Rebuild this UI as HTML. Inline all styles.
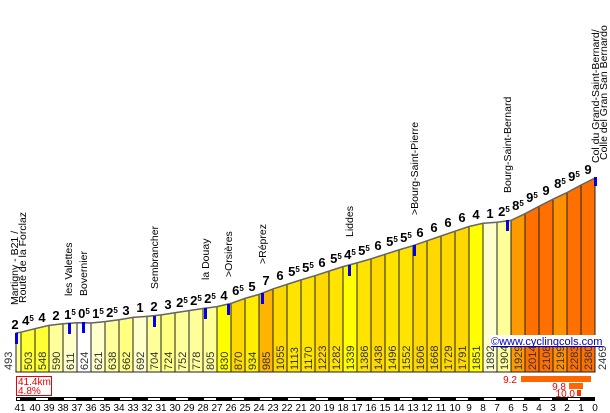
<!DOCTYPE html>
<html><head><meta charset="utf-8"><style>
html,body{margin:0;padding:0;background:#fff;}
svg{display:block;font-family:"Liberation Sans",sans-serif;}
.g{font-weight:bold;font-size:13px;fill:#000;text-anchor:middle;}
.g tspan.s{font-size:8px;}
.e{font-size:11px;fill:#333;}
.p{font-size:10.5px;fill:#000;}
.k{font-size:10px;fill:#000;text-anchor:middle;}
</style></head><body>
<svg width="610" height="413" viewBox="0 0 610 413" xmlns="http://www.w3.org/2000/svg">
<rect width="610" height="413" fill="#fff"/>
<g stroke="#222" stroke-width="1">
<polygon points="16,372 16,333.0 21,332.2 21,372" fill="#ffff99"/>
<polygon points="21,372 21,332.2 35,328.7 35,372" fill="#ffff33"/>
<polygon points="35,372 35,328.7 49,325.4 49,372" fill="#ffff33"/>
<polygon points="49,372 49,325.4 63,323.7 63,372" fill="#ffff99"/>
<polygon points="63,372 63,323.7 77,322.7 77,372" fill="#ffffcc"/>
<polygon points="77,372 77,322.7 91,323.0 91,372" fill="#ffffff"/>
<polygon points="91,372 91,323.0 105,321.6 105,372" fill="#ffffcc"/>
<polygon points="105,372 105,321.6 119,319.7 119,372" fill="#ffff99"/>
<polygon points="119,372 119,319.7 133,317.4 133,372" fill="#ffff80"/>
<polygon points="133,372 133,317.4 147,316.4 147,372" fill="#ffffcc"/>
<polygon points="147,372 147,316.4 161,314.9 161,372" fill="#ffff99"/>
<polygon points="161,372 161,314.9 175,312.7 175,372" fill="#ffff80"/>
<polygon points="175,372 175,312.7 189,310.6 189,372" fill="#ffff99"/>
<polygon points="189,372 189,310.6 203,308.5 203,372" fill="#ffff99"/>
<polygon points="203,372 203,308.5 217,306.6 217,372" fill="#ffff99"/>
<polygon points="217,372 217,306.6 231,303.4 231,372" fill="#ffff00"/>
<polygon points="231,372 231,303.4 245,298.4 245,372" fill="#ffd800"/>
<polygon points="245,372 245,298.4 259,294.4 259,372" fill="#ffee00"/>
<polygon points="259,372 259,294.4 273,288.9 273,372" fill="#ffb400"/>
<polygon points="273,372 273,288.9 287,284.4 287,372" fill="#ffd800"/>
<polygon points="287,372 287,284.4 301,279.9 301,372" fill="#ffe400"/>
<polygon points="301,372 301,279.9 315,275.7 315,372" fill="#ffe400"/>
<polygon points="315,372 315,275.7 329,271.1 329,372" fill="#ffd800"/>
<polygon points="329,372 329,271.1 343,266.6 343,372" fill="#ffe400"/>
<polygon points="343,372 343,266.6 357,262.9 357,372" fill="#ffff00"/>
<polygon points="357,372 357,262.9 371,258.9 371,372" fill="#ffe400"/>
<polygon points="371,372 371,258.9 385,254.3 385,372" fill="#ffd800"/>
<polygon points="385,372 385,254.3 399,249.9 399,372" fill="#ffe400"/>
<polygon points="399,372 399,249.9 413,245.7 413,372" fill="#ffe400"/>
<polygon points="413,372 413,245.7 427,240.8 427,372" fill="#ffd800"/>
<polygon points="427,372 427,240.8 441,236.0 441,372" fill="#ffd800"/>
<polygon points="441,372 441,236.0 455,231.2 455,372" fill="#ffd800"/>
<polygon points="455,372 455,231.2 469,226.5 469,372" fill="#ffd800"/>
<polygon points="469,372 469,226.5 483,223.3 483,372" fill="#ffff00"/>
<polygon points="483,372 483,223.3 497,222.3 497,372" fill="#ffffcc"/>
<polygon points="497,372 497,222.3 511,220.4 511,372" fill="#ffff99"/>
<polygon points="511,372 511,220.4 525,213.7 525,372" fill="#ff9900"/>
<polygon points="525,372 525,213.7 539,206.3 539,372" fill="#ff7000"/>
<polygon points="539,372 539,206.3 553,199.2 553,372" fill="#ff7000"/>
<polygon points="553,372 553,199.2 567,192.6 567,372" fill="#ff9000"/>
<polygon points="567,372 567,192.6 581,185.0 581,372" fill="#ff7000"/>
<polygon points="581,372 581,185.0 595,178.0 595,372" fill="#ff7000"/>
</g>
<polyline fill="none" stroke="#666" stroke-width="1.5" points="16,333.0 21,332.2 35,328.7 49,325.4 63,323.7 77,322.7 91,323.0 105,321.6 119,319.7 133,317.4 147,316.4 161,314.9 175,312.7 189,310.6 203,308.5 217,306.6 231,303.4 245,298.4 259,294.4 273,288.9 287,284.4 301,279.9 315,275.7 329,271.1 343,266.6 357,262.9 371,258.9 385,254.3 399,249.9 413,245.7 427,240.8 441,236.0 455,231.2 469,226.5 483,223.3 497,222.3 511,220.4 525,213.7 539,206.3 553,199.2 567,192.6 581,185.0 595,178.0"/>
<!-- blue markers -->
<g fill="#0000ee">
<rect x="15" y="333" width="3" height="11"/>
<rect x="68" y="323" width="3" height="11"/>
<rect x="82" y="322" width="3" height="11"/>
<rect x="153" y="316" width="3" height="11"/>
<rect x="204" y="308" width="3" height="11"/>
<rect x="227" y="304" width="3" height="11"/>
<rect x="261" y="293" width="3" height="11"/>
<rect x="348" y="265" width="3" height="11"/>
<rect x="413" y="245" width="3" height="11"/>
<rect x="506" y="220" width="3" height="11"/>
<rect x="594" y="177" width="3" height="9"/>
</g>
<!-- gradient labels -->
<g class="g">
<text x="15" y="329">2</text>
<text x="28" y="325">4<tspan class="s" dy="-4">5</tspan></text>
<text x="42" y="322">4</text>
<text x="56" y="320">2</text>
<text x="70" y="319">1<tspan class="s" dy="-4">5</tspan></text>
<text x="84" y="318">0<tspan class="s" dy="-4">5</tspan></text>
<text x="98" y="318">1<tspan class="s" dy="-4">5</tspan></text>
<text x="112" y="317">2<tspan class="s" dy="-4">5</tspan></text>
<text x="126" y="315">3</text>
<text x="140" y="312">1</text>
<text x="154" y="311">2</text>
<text x="168" y="309">3</text>
<text x="182" y="307">2<tspan class="s" dy="-4">5</tspan></text>
<text x="196" y="305">2<tspan class="s" dy="-4">5</tspan></text>
<text x="210" y="303">2<tspan class="s" dy="-4">5</tspan></text>
<text x="224" y="300">4</text>
<text x="238" y="295">6<tspan class="s" dy="-4">5</tspan></text>
<text x="252" y="291">5</text>
<text x="266" y="285">7</text>
<text x="280" y="280">6</text>
<text x="294" y="276">5<tspan class="s" dy="-4">5</tspan></text>
<text x="308" y="272">5<tspan class="s" dy="-4">5</tspan></text>
<text x="322" y="267">6</text>
<text x="336" y="263">5<tspan class="s" dy="-4">5</tspan></text>
<text x="350" y="259">4<tspan class="s" dy="-4">5</tspan></text>
<text x="364" y="255">5<tspan class="s" dy="-4">5</tspan></text>
<text x="378" y="250">6</text>
<text x="392" y="246">5<tspan class="s" dy="-4">5</tspan></text>
<text x="406" y="242">5<tspan class="s" dy="-4">5</tspan></text>
<text x="420" y="237">6</text>
<text x="434" y="232">6</text>
<text x="448" y="227">6</text>
<text x="462" y="222">6</text>
<text x="476" y="219">4</text>
<text x="490" y="218">1</text>
<text x="504" y="216">2<tspan class="s" dy="-4">5</tspan></text>
<text x="518" y="210">8<tspan class="s" dy="-4">5</tspan></text>
<text x="532" y="202">9<tspan class="s" dy="-4">5</tspan></text>
<text x="546" y="195">9</text>
<text x="560" y="188">8<tspan class="s" dy="-4">5</tspan></text>
<text x="574" y="181">9<tspan class="s" dy="-4">5</tspan></text>
<text x="588" y="174">9</text>
</g>
<!-- elevation labels -->
<g class="e">
<text transform="translate(12,370) rotate(-90)">493</text>
<text transform="translate(32,370) rotate(-90)">503</text>
<text transform="translate(46,370) rotate(-90)">548</text>
<text transform="translate(60,370) rotate(-90)">590</text>
<text transform="translate(74,370) rotate(-90)">611</text>
<text transform="translate(88,370) rotate(-90)">624</text>
<text transform="translate(102,370) rotate(-90)">621</text>
<text transform="translate(116,370) rotate(-90)">638</text>
<text transform="translate(130,370) rotate(-90)">662</text>
<text transform="translate(144,370) rotate(-90)">692</text>
<text transform="translate(158,370) rotate(-90)">704</text>
<text transform="translate(172,370) rotate(-90)">724</text>
<text transform="translate(186,370) rotate(-90)">752</text>
<text transform="translate(200,370) rotate(-90)">778</text>
<text transform="translate(214,370) rotate(-90)">805</text>
<text transform="translate(228,370) rotate(-90)">830</text>
<text transform="translate(242,370) rotate(-90)">870</text>
<text transform="translate(256,370) rotate(-90)">934</text>
<text transform="translate(270,370) rotate(-90)">985</text>
<text transform="translate(284,370) rotate(-90)">1055</text>
<text transform="translate(298,370) rotate(-90)">1113</text>
<text transform="translate(312,370) rotate(-90)">1170</text>
<text transform="translate(326,370) rotate(-90)">1223</text>
<text transform="translate(340,370) rotate(-90)">1282</text>
<text transform="translate(354,370) rotate(-90)">1339</text>
<text transform="translate(368,370) rotate(-90)">1386</text>
<text transform="translate(382,370) rotate(-90)">1438</text>
<text transform="translate(396,370) rotate(-90)">1496</text>
<text transform="translate(410,370) rotate(-90)">1552</text>
<text transform="translate(424,370) rotate(-90)">1606</text>
<text transform="translate(438,370) rotate(-90)">1668</text>
<text transform="translate(452,370) rotate(-90)">1729</text>
<text transform="translate(466,370) rotate(-90)">1791</text>
<text transform="translate(480,370) rotate(-90)">1851</text>
<text transform="translate(494,370) rotate(-90)">1892</text>
<text transform="translate(508,370) rotate(-90)">1904</text>
<text transform="translate(522,370) rotate(-90)">1929</text>
<text transform="translate(536,370) rotate(-90)">2014</text>
<text transform="translate(550,370) rotate(-90)">2108</text>
<text transform="translate(564,370) rotate(-90)">2199</text>
<text transform="translate(578,370) rotate(-90)">2283</text>
<text transform="translate(592,370) rotate(-90)">2380</text>
<text transform="translate(606,370) rotate(-90)">2469</text>
</g>
<!-- place names -->
<g class="p">
<text transform="translate(18,305) rotate(-90)">Martigny - B21 /</text>
<text transform="translate(26,303) rotate(-90)">Route de la Forclaz</text>
<text transform="translate(72,296) rotate(-90)">les Valettes</text>
<text transform="translate(87,296) rotate(-90)">Bovernier</text>
<text transform="translate(158,289) rotate(-90)">Sembrancher</text>
<text transform="translate(209,280) rotate(-90)">la Douay</text>
<text transform="translate(232,277) rotate(-90)">&gt;Orsières</text>
<text transform="translate(266,264) rotate(-90)">&gt;Réprez</text>
<text transform="translate(353,237) rotate(-90)">Liddes</text>
<text transform="translate(418,215) rotate(-90)">&gt;Bourg-Saint-Pierre</text>
<text transform="translate(511,193) rotate(-90)">Bourg-Saint-Bernard</text>
<text transform="translate(599,163) rotate(-90)">Col du Grand-Saint-Bernard/</text>
<text transform="translate(607,160) rotate(-90)">Colle del Gran San Bernardo</text>
</g>
<!-- copyright -->
<rect x="490" y="335" width="108" height="12" fill="#fff"/>
<text x="491" y="345" font-size="11" fill="#0000cc" text-decoration="underline">©www.cyclingcols.com</text>
<line x1="491" y1="346.5" x2="597" y2="346.5" stroke="#0000cc" stroke-width="1"/>
<!-- info box -->
<rect x="16.5" y="376.5" width="35" height="19" fill="#fff" stroke="#ee0000"/>
<text x="18" y="385" font-size="10" fill="#ee0000">41.4km</text>
<text x="18" y="394" font-size="10" fill="#ee0000">4.8%</text>
<!-- max gradient bars -->
<rect x="521" y="376" width="70" height="6" fill="#ff6600"/>
<text x="517" y="383" font-size="10" fill="#ee0000" text-anchor="end">9.2</text>
<rect x="569" y="383" width="14" height="6" fill="#ff6600"/>
<text x="566" y="390" font-size="10" fill="#ee0000" text-anchor="end">9.8</text>
<rect x="577" y="390" width="4" height="6" fill="#ff3300"/>
<text x="575" y="397" font-size="10" fill="#ee0000" text-anchor="end">10.0</text>
<!-- km scale -->
<rect x="16" y="397" width="579" height="4" fill="#000"/>
<g fill="#fff">
<rect x="17" y="398" width="3" height="2"/>
<rect x="36" y="398" width="12" height="2"/><rect x="64" y="398" width="12" height="2"/><rect x="92" y="398" width="12" height="2"/><rect x="120" y="398" width="12" height="2"/><rect x="148" y="398" width="12" height="2"/><rect x="176" y="398" width="12" height="2"/><rect x="204" y="398" width="12" height="2"/><rect x="232" y="398" width="12" height="2"/><rect x="260" y="398" width="12" height="2"/><rect x="288" y="398" width="12" height="2"/><rect x="316" y="398" width="12" height="2"/><rect x="344" y="398" width="12" height="2"/><rect x="372" y="398" width="12" height="2"/><rect x="400" y="398" width="12" height="2"/><rect x="428" y="398" width="12" height="2"/><rect x="456" y="398" width="12" height="2"/><rect x="484" y="398" width="12" height="2"/><rect x="512" y="398" width="12" height="2"/><rect x="540" y="398" width="12" height="2"/><rect x="568" y="398" width="12" height="2"/>
</g>
<g class="k">
<text x="20" y="411">41</text><text x="35" y="411">40</text><text x="49" y="411">39</text><text x="63" y="411">38</text><text x="77" y="411">37</text><text x="91" y="411">36</text><text x="105" y="411">35</text><text x="119" y="411">34</text><text x="133" y="411">33</text><text x="147" y="411">32</text><text x="161" y="411">31</text><text x="175" y="411">30</text><text x="189" y="411">29</text><text x="203" y="411">28</text><text x="217" y="411">27</text><text x="231" y="411">26</text><text x="245" y="411">25</text><text x="259" y="411">24</text><text x="273" y="411">23</text><text x="287" y="411">22</text><text x="301" y="411">21</text><text x="315" y="411">20</text><text x="329" y="411">19</text><text x="343" y="411">18</text><text x="357" y="411">17</text><text x="371" y="411">16</text><text x="385" y="411">15</text><text x="399" y="411">14</text><text x="413" y="411">13</text><text x="427" y="411">12</text><text x="441" y="411">11</text><text x="455" y="411">10</text><text x="469" y="411">9</text><text x="483" y="411">8</text><text x="497" y="411">7</text><text x="511" y="411">6</text><text x="525" y="411">5</text><text x="539" y="411">4</text><text x="553" y="411">3</text><text x="567" y="411">2</text><text x="581" y="411">1</text><text x="595" y="411">0</text>
</g>
</svg>
</body></html>
